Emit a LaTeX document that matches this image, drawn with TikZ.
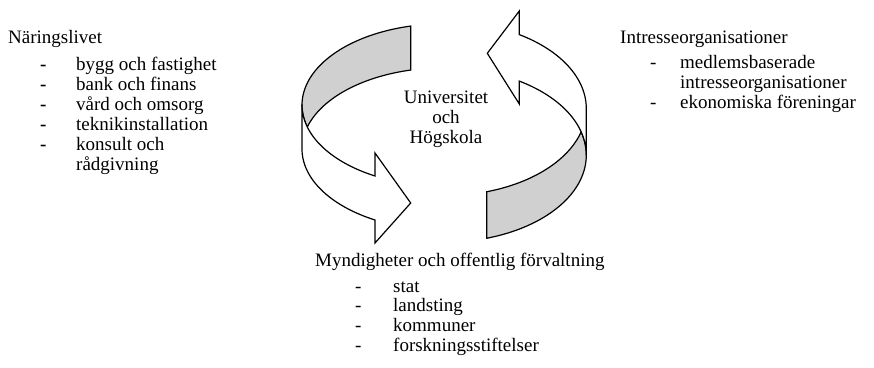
\documentclass[tikz,border=0pt]{standalone}
\usepackage{fontspec}
\setmainfont{Liberation Serif}
\definecolor{bandgray}{RGB}{208,208,208}
% left ribbon: two ellipses (upper and lower band edge)
\def\Lcx{443.8}\def\Lrx{141.8}\def\Lry{81.2}\def\LcT{105}\def\LcB{149}
% right ribbon
\def\Rcx{444.5}\def\Rrx{141.8}\def\Rry{87.1}\def\RcT{155.1}\def\RcB{108.6}
\newcommand{\dashitem}[2][]{\makebox[#2][l]{#1-}}
\begin{document}
\begin{tikzpicture}[x=1pt,y=-1pt,
  ribbon/.style={draw=black, line width=1.2pt, line join=miter},
  back/.style={ribbon, fill=bandgray},
  front/.style={ribbon, fill=white},
  txt/.style={anchor=base west, inner sep=0pt, font=\fontsize{19}{20}\selectfont},
  ctxt/.style={anchor=base, inner sep=0pt, font=\fontsize{19}{20}\selectfont}]
\useasboundingbox (0,0) rectangle (874,367);

% ---- left circular arrow ----
\path[back] plot[domain=103.5:195.7, samples=50, variable=\t]
    ({\Lcx+\Lrx*cos(\t)},{\LcT-\Lry*sin(\t)})
  -- plot[domain=164.3:103.5, samples=50, variable=\t]
    ({\Lcx+\Lrx*cos(\t)},{\LcB-\Lry*sin(\t)})
  -- cycle;
\path[front] ({\Lcx-\Lrx},\LcT) -- ({\Lcx-\Lrx},\LcB)
  -- plot[domain=180:240.97, samples=50, variable=\t]
    ({\Lcx+\Lrx*cos(\t)},{\LcB-\Lry*sin(\t)})
  -- (375,243) -- (410.7,203) -- (375,153)
  -- plot[domain=240.97:180, samples=50, variable=\t]
    ({\Lcx+\Lrx*cos(\t)},{\LcT-\Lry*sin(\t)})
  -- cycle;

% ---- right circular arrow ----
\path[back] plot[domain=-72.7:15.5, samples=50, variable=\t]
    ({\Rcx+\Rrx*cos(\t)},{\RcT-\Rry*sin(\t)})
  -- plot[domain=-15.5:-72.7, samples=50, variable=\t]
    ({\Rcx+\Rrx*cos(\t)},{\RcB-\Rry*sin(\t)})
  -- cycle;
\path[front] ({\Rcx+\Rrx},\RcB)
  -- plot[domain=0:58.2, samples=50, variable=\t]
    ({\Rcx+\Rrx*cos(\t)},{\RcB-\Rry*sin(\t)})
  -- (519.3,11) -- (487.3,53.3) -- (519.3,104)
  -- plot[domain=58.2:0, samples=50, variable=\t]
    ({\Rcx+\Rrx*cos(\t)},{\RcT-\Rry*sin(\t)})
  -- cycle;

% ---- centre ----
\node[ctxt] (uni1) at (446,103) {Universitet};
\node[ctxt] (uni2) at (446,123) {och};
\node[ctxt] (uni3) at (446,143) {Högskola};

% ---- Näringslivet ----
\node[txt] (nl)  at (8,43)    {Näringslivet};
\node[txt] (nl1) at (40,70)   {\dashitem[\bfseries]{36pt}bygg och fastighet};
\node[txt] (nl2) at (40,90)   {\dashitem[\bfseries]{36pt}bank och finans};
\node[txt] (nl3) at (40,110)  {\dashitem[\bfseries]{36pt}vård och omsorg};
\node[txt] (nl4) at (40,130)  {\dashitem[\bfseries]{36pt}teknikinstallation};
\node[txt] (nl5) at (40,150)  {\dashitem[\bfseries]{36pt}konsult och};
\node[txt] (nl6) at (76,170)  {rådgivning};

% ---- Intresseorganisationer ----
\node[txt] (io)  at (620,43)  {Intresseorganisationer};
\node[txt] (io1) at (650,68)  {\dashitem{30pt}medlemsbaserade};
\node[txt] (io2) at (680,88)  {intresseorganisationer};
\node[txt] (io3) at (650,108) {\dashitem{30pt}ekonomiska föreningar};

% ---- Myndigheter ----
\node[txt] (my)  at (315,266)   {Myndigheter och offentlig förvaltning};
\node[txt] (my1) at (355,292)   {\dashitem{38pt}stat};
\node[txt] (my2) at (355,311.7) {\dashitem{38pt}landsting};
\node[txt] (my3) at (355,331.4) {\dashitem{38pt}kommuner};
\node[txt] (my4) at (355,351.1) {\dashitem{38pt}forskningsstiftelser};
\end{tikzpicture}
\end{document}
